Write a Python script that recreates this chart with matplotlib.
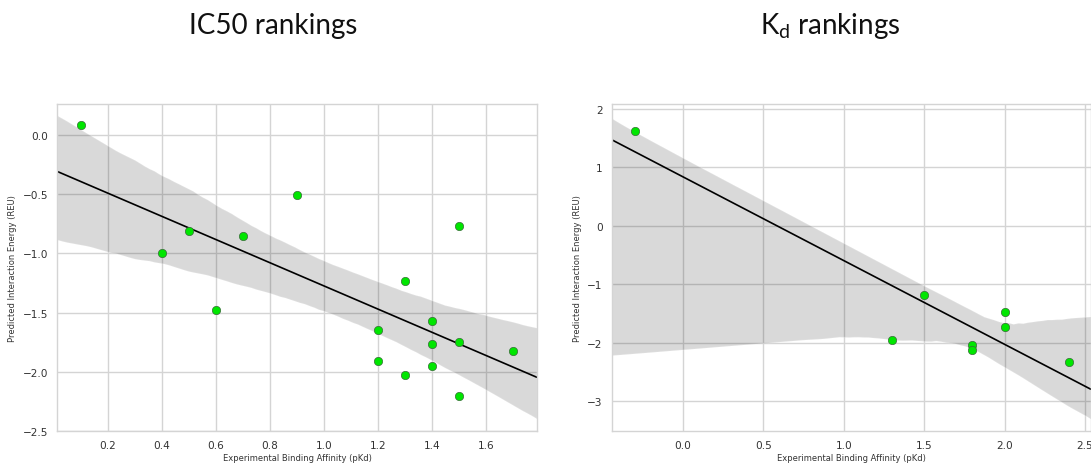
import numpy as np
import pandas as pd
import matplotlib
matplotlib.use("Agg")
import matplotlib.pyplot as plt
import seaborn as sns

# IC50 panel data
ic50_x = [0.1, 0.4, 0.5, 0.6, 0.7, 0.9, 1.2, 1.2, 1.3, 1.3, 1.4, 1.4, 1.4, 1.5, 1.5, 1.5, 1.7]
ic50_y = [0.08, -1.00, -0.81, -1.475, -0.855, -0.505, -1.65, -1.91, -1.23, -2.025, -1.57, -1.765, -1.95, -0.77, -1.75, -2.205, -1.825]

# Kd panel data
kd_x = [-0.3, 1.3, 1.5, 1.8, 1.8, 2.0, 2.0, 2.4]
kd_y = [1.625, -1.95, -1.18, -2.03, -2.12, -1.475, -1.735, -2.325]

titles = ["IC50 rankings", r"K$_{\mathregular{d}}$ rankings"]
xlabel = "Experimental Binding Affinity (pKd)"
ylabel = "Predicted Interaction Energy (REU)"

sns.set_style("whitegrid")
plt.rcParams['font.family'] = ['DejaVu Sans']

fig = plt.figure(figsize=(10.91, 4.64), dpi=100)
W, H = 1091, 464
ax1 = fig.add_axes([57.3 / W, (H - 432.3) / H, 479.4 / W, 327.3 / H])
ax2 = fig.add_axes([611.7 / W, (H - 432.3) / H, 478.9 / W, 327.3 / H])

panels = [
    (ax1, ic50_x, ic50_y, (0.013, 1.789), (-2.5, 0.259), [0.2, 0.4, 0.6, 0.8, 1.0, 1.2, 1.4, 1.6], [0.0, -0.5, -1.0, -1.5, -2.0, -2.5], "{:.1f}"),
    (ax2, kd_x, kd_y, (-0.443, 2.535), (-3.51, 2.08), [0.0, 0.5, 1.0, 1.5, 2.0, 2.5], [2, 1, 0, -1, -2, -3], "{:.0f}"),
]

for ax, xs, ys, xl, yl, xt, yt, yfmt in panels:
    ax.set_xlim(*xl)
    ax.set_ylim(*yl)
    df = pd.DataFrame({"x": xs, "y": ys})
    sns.regplot(data=df, x="x", y="y", ax=ax, color="black", truncate=False, seed=3,
                scatter_kws=dict(s=36, color="#00e600", edgecolor="#3a6a3a", linewidths=0.5, alpha=1, zorder=3),
                line_kws=dict(color="black", lw=1.2))
    ax.set_xlim(*xl)
    ax.set_ylim(*yl)
    ax.set_xticks(xt)
    ax.set_yticks(yt)
    ax.set_xticklabels(["{:.1f}".format(v) for v in xt])
    ax.set_yticklabels([yfmt.format(v).replace("-", "\u2212") for v in yt])
    ax.tick_params(labelsize=7.6, colors="#333333", pad=3)
    ax.set_xlabel(xlabel, fontsize=6.0, color="#333333", labelpad=2)
    ax.set_ylabel(ylabel, fontsize=6.0, color="#333333", labelpad=4)
    ax.grid(True, color="#d4d4d4", lw=1.0)
    for sp in ax.spines.values():
        sp.set_color("#d4d4d4")
        sp.set_linewidth(1.0)

fig.text(273 / W, 1 - 26 / H, titles[0], ha="center", va="center", fontsize=20, family="Lato", color="#111111")
fig.text(830 / W, 1 - 26 / H, titles[1], ha="center", va="center", fontsize=20, family="Lato", color="#111111")

fig.savefig("out.png", dpi=100)
